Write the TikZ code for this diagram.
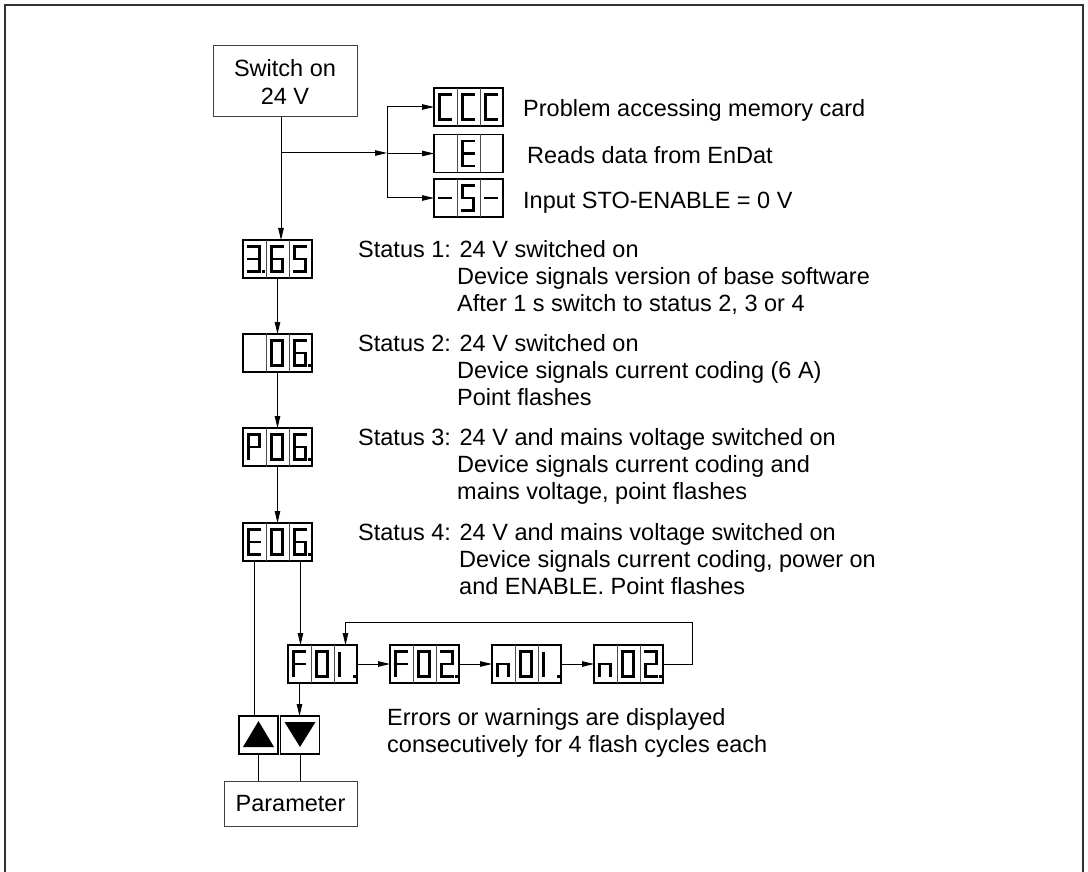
\documentclass[tikz,border=0pt]{standalone}
\usepackage{fontspec}
\setmainfont{Liberation Sans}
\usepackage{tikz}
\usetikzlibrary{arrows.meta,positioning}

% seven segment pieces, drawn relative to a cell (23 x 38)
\newcommand{\segA}[1]{\draw[seg] (#1+4.1,6.5) -- (#1+17.9,6.5);}
\newcommand{\segB}[1]{\draw[seg] (#1+16.5,6.5) -- (#1+16.5,19);}
\newcommand{\segC}[1]{\draw[seg] (#1+16.5,19) -- (#1+16.5,31.5);}
\newcommand{\segD}[1]{\draw[seg] (#1+4.1,31.5) -- (#1+17.9,31.5);}
\newcommand{\segE}[1]{\draw[seg] (#1+5.5,19) -- (#1+5.5,31.5);}
\newcommand{\segF}[1]{\draw[seg] (#1+5.5,6.5) -- (#1+5.5,19);}
\newcommand{\segG}[1]{\draw[seg] (#1+4.1,19) -- (#1+17.9,19);}
\newcommand{\segP}[1]{\fill (#1+18.5,29.5) rectangle (#1+21.5,32.8);}
\newcommand{\segN}[1]{}
\newcommand{\segglyph}[2]{\foreach \sg in {#2}{\csname seg\sg\endcsname{#1}}}
\newcommand{\showdisp}[4]{%
  \begin{scope}[shift={(#1.north west)}]
    \draw[cellsep] (23,0) -- (23,38) (46,0) -- (46,38);
    \segglyph{0}{#2}\segglyph{23}{#3}\segglyph{46}{#4}
  \end{scope}}

\begin{document}
\begin{tikzpicture}[x=1pt, y=-1pt,
    txt/.style={inner sep=0pt, align=left, font=\fontsize{23.5}{27}\selectfont},
    box/.style={draw=black!75, line width=1pt, align=center, inner sep=0pt,
                font=\fontsize{23.5}{28}\selectfont},
    disp/.style={draw, line width=1.2pt, minimum width=69pt, minimum height=38pt,
                 inner sep=0pt, outer sep=0pt},
    btn/.style={draw, line width=1.1pt, minimum width=39pt, minimum height=38pt,
                inner sep=0pt, outer sep=0pt},
    cellsep/.style={line width=1pt, black!70},
    seg/.style={line width=2.8pt},
    arr/.style={-{Triangle[length=12pt,width=5.5pt]}, line width=1pt},
    wire/.style={line width=1pt}
  ]
    \useasboundingbox (0,0) rectangle (1088,872);
    \draw[line width=1.4pt, black!80] (5,872) -- (5,5) -- (1083,5) -- (1083,872);

    \node[box, minimum width=144pt, minimum height=71pt] (switch) at (285,81.5) {Switch on\\24 V};

    % start-up messages
    \node[disp] (dccc) at (468.5,107)   {};
    \node[disp] (de)   at (468.5,153.5) {};
    \node[disp] (dsto) at (468.5,198)   {};
    \showdisp{dccc}{A,F,E,D}{A,F,E,D}{A,F,E,D}
    \showdisp{de}{N}{A,F,G,E,D}{N}
    \showdisp{dsto}{G}{A,F,G,C,D}{G}
    \node[txt, anchor=base west] (tccc) at (523,117)   {Problem accessing memory card};
    \node[txt, anchor=base west] (te)   at (527,163.5) {Reads data from EnDat};
    \node[txt, anchor=base west] (tsto) at (523,208)   {Input STO-ENABLE = 0 V};

    % status displays
    \node[disp] (d365) at (277.5,259) {};
    \node[disp] (d06)  at (277.5,353) {};
    \node[disp] (dp06) at (277.5,447) {};
    \node[disp] (de06) at (277.5,542) {};
    \showdisp{d365}{A,B,G,C,D,P}{A,F,G,E,D,C}{A,F,G,C,D}
    \showdisp{d06}{N}{A,B,C,D,E,F}{A,F,G,E,D,C,P}
    \showdisp{dp06}{A,B,F,G,E}{A,B,C,D,E,F}{A,F,G,E,D,C,P}
    \showdisp{de06}{A,F,G,E,D}{A,B,C,D,E,F}{A,F,G,E,D,C,P}

    % base of a multi-line node is its last line
    \node[txt, anchor=base west] (st1) at (358,311)
      {Status 1: 24 V switched on\\\hspace*{99pt}Device signals version of base software\\\hspace*{99pt}After 1 s switch to status 2, 3 or 4};
    \node[txt, anchor=base west] (st2) at (358,405)
      {Status 2: 24 V switched on\\\hspace*{99pt}Device signals current coding (6 A)\\\hspace*{99pt}Point flashes};
    \node[txt, anchor=base west] (st3) at (358,499)
      {Status 3: 24 V and mains voltage switched on\\\hspace*{99pt}Device signals current coding and\\\hspace*{99pt}mains voltage, point flashes};
    \node[txt, anchor=base west] (st4) at (358,594)
      {Status 4: 24 V and mains voltage switched on\\\hspace*{101pt}Device signals current coding, power on\\\hspace*{101pt}and ENABLE. Point flashes};

    % error / warning cycle
    \node[disp] (df01) at (322.5,664) {};
    \node[disp] (df02) at (424.5,664) {};
    \node[disp] (dn01) at (526.5,664) {};
    \node[disp] (dn02) at (628.5,664) {};
    \showdisp{df01}{A,F,G,E}{A,B,C,D,E,F}{E,F,P}
    \showdisp{df02}{A,F,G,E}{A,B,C,D,E,F}{A,B,G,E,D,P}
    \showdisp{dn01}{C,E,G}{A,B,C,D,E,F}{E,F,P}
    \showdisp{dn02}{C,E,G}{A,B,C,D,E,F}{A,B,G,E,D,P}
    \node[txt, anchor=base west] (terr) at (387,752)
      {Errors or warnings are displayed\\consecutively for 4 flash cycles each};

    % keys and parameter menu
    \node[btn] (bup)   at (258.5,735) {};
    \node[btn] (bdown) at (300,735)   {};
    \fill ([xshift=4pt,yshift=7pt]bup.south west) -- ([xshift=-4pt,yshift=7pt]bup.south east)
      -- ([yshift=-5pt]bup.north) -- cycle;
    \fill ([xshift=4pt,yshift=-6pt]bdown.north west) -- ([xshift=-4pt,yshift=-6pt]bdown.north east)
      -- ([yshift=7pt]bdown.south) -- cycle;
    \node[box, minimum width=133pt, minimum height=45pt] (param) at (290.5,803.5) {Parameter};

    % connectors
    \coordinate (fork) at (281,153);
    \coordinate (bus)  at (387,153);
    \draw[arr] ([xshift=-4pt]switch.south) -- ([xshift=-4pt]switch.south |- d365.north);
    \draw[arr] (fork) -- (bus);
    \draw[wire] (dccc.west -| bus) -- (dsto.west -| bus);
    \foreach \d in {dccc,de,dsto}
      \draw[arr] (\d.west -| bus) -- (\d.west);

    \draw[arr] (d365) -- (d06);
    \draw[arr] (d06) -- (dp06);
    \draw[arr] (dp06) -- (de06);
    \draw[wire] ([xshift=-23pt]de06.south) -- ([xshift=-23pt]de06.south |- bup.north);
    \draw[arr] ([xshift=23pt]de06.south) -- ([xshift=23pt]de06.south |- df01.north);

    \draw[arr] (df01) -- (df02);
    \draw[arr] (df02) -- (dn01);
    \draw[arr] (dn01) -- (dn02);
    \draw[arr] (dn02.east) -- ++(29,0) |- ([xshift=23pt,yshift=23pt]df01.north)
      -- ([xshift=23pt]df01.north);
    \draw[arr] ([xshift=-23pt]df01.south) -- ([xshift=-23pt]df01.south |- bdown.north);

    \draw[wire] (bup.south) -- (bup.south |- param.north);
    \draw[wire] (bdown.south) -- (bdown.south |- param.north);
  \end{tikzpicture}
\end{document}
